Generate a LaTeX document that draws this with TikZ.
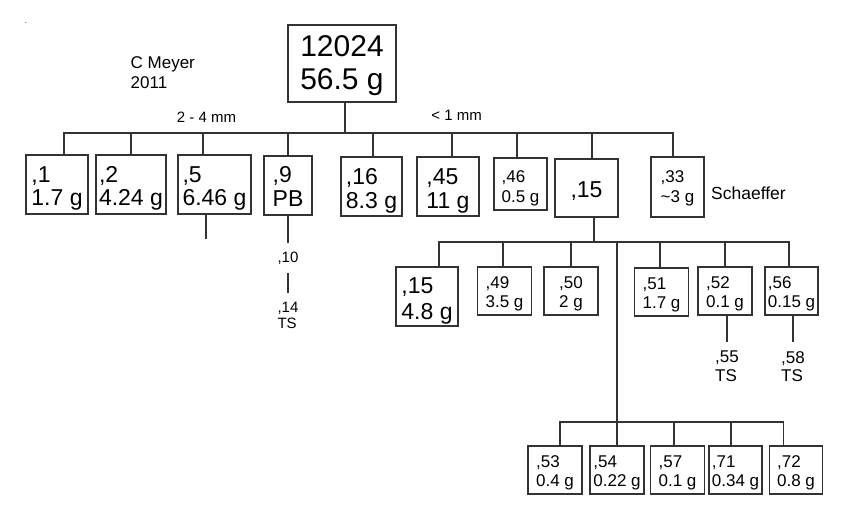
\documentclass[tikz,border=0pt]{standalone}
\usepackage{fontspec}
\setmainfont{Liberation Sans}
\newcommand\fs[2]{\fontsize{#1}{#2}\selectfont}
\tikzset{
	box/.style={draw=black!80, line width=1.3pt, align=left, inner sep=0pt},
	topbox/.style={box, font=\fs{30}{33}, minimum width=108pt, text height=64.7pt, text depth=12.3pt},
	bigbox/.style={box, font=\fs{23}{24}, text height=51pt, text depth=8pt},
	smallbox/.style={box, font=\fs{17}{19.5}, text height=40.5pt, text depth=7.5pt},
	leaf/.style={align=left, inner xsep=0pt, inner ysep=9pt, font=\fs{17}{18.5}},
	wire/.style={draw=black!80, line width=1.3pt}
}

\begin{document}
\begin{tikzpicture}[x=1pt, y=-1pt]
		%%%%% START %%%%%
		\useasboundingbox (0,0) rectangle (844,508);
		
		\node (dot) at (26,23) {\fs{8}{8}.};
		\node[anchor=west, inner sep=0pt, align=left, font=\fs{17}{20.4}] (meyer) at (130.5,72.4) {C Meyer\\2011};
		\node[inner sep=0pt, font=\fs{15}{15}] (coarse) at (206.5,117.3) {2 - 4 mm};
		\node[inner sep=0pt, font=\fs{15}{15}] (fine) at (456.7,115.3) {< 1 mm};
		
		\node[topbox] (top) at (342,63.5) {12024\\56.5 g};
		
		\node[bigbox, minimum width=62pt] (b1) at (57,184.5) {,1\\1.7 g};
		\node[bigbox, minimum width=70pt] (b2) at (131,184.5) {,2\\4.24 g};
		\node[bigbox, minimum width=73pt] (b5) at (214.5,184.5) {,5\\6.46 g};
		\node[bigbox, minimum width=48pt] (b9) at (288,185.5) {,9\\PB};
		\node[bigbox, minimum width=61pt] (b16) at (371.5,186.5) {,16\\8.3 g};
		\node[bigbox, minimum width=62pt] (b45) at (448,186.5) {,45\\11 g};
		\node[smallbox, minimum width=53pt, text height=44.5pt, text depth=7.5pt] (b46) at (520.5,184) {,46\\0.5 g};
		\node[bigbox, minimum width=63pt, text height=38pt, text depth=20pt] (b15) at (586.5,188) {,15};
		\node[smallbox, minimum width=53pt, text height=45.5pt, text depth=14.5pt] (b33) at (677.5,187) {,33\\\textasciitilde3 g};
		\node[anchor=west, inner sep=0pt, font=\fs{17.5}{20}] (schaeffer) at (711,193.6) {Schaeffer};
		
		\coordinate (busA) at (0,133);
		\draw[wire] ([xshift=3pt]top.south) -- ([xshift=3pt]top.south |- busA);
		\draw[wire] ([xshift=7pt]b1.north) |- ([xshift=-4.5pt]b33.north |- busA) -- ([xshift=-4.5pt]b33.north);
		\draw[wire] (b2.north) -- (b2.north |- busA);
		\draw[wire] ([xshift=-11.5pt]b5.north) -- ([xshift=-11.5pt]b5.north |- busA);
		\draw[wire] (b9.north) -- (b9.north |- busA);
		\draw[wire] ([xshift=1.5pt]b16.north) -- ([xshift=1.5pt]b16.north |- busA);
		\draw[wire] ([xshift=4pt]b45.north) -- ([xshift=4pt]b45.north |- busA);
		\draw[wire] ([xshift=-3.5pt]b46.north) -- ([xshift=-3.5pt]b46.north |- busA);
		\draw[wire] ([xshift=5.5pt]b15.north) -- ([xshift=5.5pt]b15.north |- busA);
		
		\coordinate (t5) at (206,239);
		\draw[wire] (b5.south -| t5) -- (t5);
		
		\node[leaf, font=\fs{15}{16.5}] (n10) at (288,258) {,10};
		\node[leaf, font=\fs{15}{16.5}] (n14) at (288,315.6) {,14\\TS};
		\draw[wire] (b9) -- (n10);
		\draw[wire] (n10) -- (n14);
		
		\node[bigbox, font=\fs{23}{26}, minimum width=62pt, text height=52pt, text depth=7pt] (c15) at (427,296.5) {,15\\4.8 g};
		\node[smallbox, minimum width=54pt] (c49) at (504.5,291) {,49\\3.5 g};
		\node[smallbox, minimum width=54pt] (c50) at (571,291) {,50\\2 g};
		\node[smallbox, minimum width=54pt] (c51) at (661.5,292) {,51\\1.7 g};
		\node[smallbox, minimum width=54pt] (c52) at (725,291) {,52\\0.1 g};
		\node[smallbox, minimum width=53pt] (c56) at (791.5,291) {,56\\0.15 g};
		
		\node[leaf] (n55) at (727,366.4) {,55\\TS};
		\node[leaf] (n58) at (793,366.4) {,58\\TS};
		\draw[wire] (c52.south -| n55) -- (n55.north);
		\draw[wire] (c56.south -| n58) -- (n58.north);
		
		\node[smallbox, minimum width=54pt] (d53) at (555,470) {,53\\0.4 g};
		\node[smallbox, minimum width=54pt] (d54) at (617,470) {,54\\0.22 g};
		\node[smallbox, minimum width=54pt] (d57) at (677.5,470) {,57\\0.1 g};
		\node[smallbox, minimum width=53pt] (d71) at (735.5,470) {,71\\0.34 g};
		\node[smallbox, minimum width=53pt] (d72) at (796,470) {,72\\0.8 g};
		
		\coordinate (busB) at (0,242);
		\draw[wire] ([xshift=7.5pt]b15.south) -- ([xshift=7.5pt]b15.south |- busB);
		\draw[wire] ([xshift=12pt]c15.north) |- ([xshift=-2.5pt]c56.north |- busB) -- ([xshift=-2.5pt]c56.north);
		\draw[wire] ([xshift=-1.5pt]c49.north) -- ([xshift=-1.5pt]c49.north |- busB);
		\draw[wire] (c50.north) -- (c50.north |- busB);
		\draw[wire] ([xshift=-1.5pt]c51.north) -- ([xshift=-1.5pt]c51.north |- busB);
		\draw[wire] (c52.north) -- (c52.north |- busB);
		\draw[wire] (d54.north |- busB) -- (d54.north);
		
		\coordinate (busC) at (0,422);
		\draw[wire] ([xshift=5pt]d53.north) |- ([xshift=-12.5pt]d72.north |- busC) -- ([xshift=-12.5pt]d72.north);
		\draw[wire] ([xshift=-3.5pt]d57.north) -- ([xshift=-3.5pt]d57.north |- busC);
		\draw[wire] ([xshift=-4.5pt]d71.north) -- ([xshift=-4.5pt]d71.north |- busC);
		
		%%%%% END %%%%%
\end{tikzpicture}
\end{document}
